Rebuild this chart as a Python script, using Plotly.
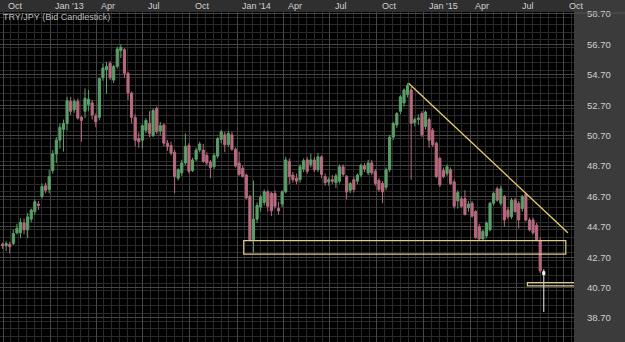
import plotly.graph_objects as go
import pandas as pd

# ---------------- data (weekly TRY/JPY bid candles) ----------------
start_date = "2012-09-30"

opens = [43.55, 43.45, 43.55, 43.60, 44.30, 44.30, 44.95, 44.50, 45.20, 45.70,
         46.20, 46.70, 47.40, 47.15, 48.40, 49.50, 50.40, 51.10, 51.50, 52.95,
         52.40, 52.95, 51.90, 52.30, 52.75, 52.85, 52.00, 51.90, 54.50, 55.05,
         55.45, 54.35, 55.25, 56.30, 56.35, 54.80, 53.50, 51.90, 50.50, 50.40,
         51.05, 51.50, 50.70, 52.50, 51.00, 51.40, 50.20, 50.05, 49.60, 47.90,
         48.25, 48.90, 50.05, 48.40, 49.15, 49.75, 49.75, 49.40, 48.95, 48.65,
         49.35, 50.45, 50.75, 50.10, 50.75, 49.80, 48.90, 48.55, 48.10, 46.70,
         43.85, 45.20, 46.00, 46.30, 47.00, 46.90, 46.90, 45.90, 46.20, 47.00,
         49.00, 48.10, 47.90, 47.80, 48.50, 49.10, 48.80, 49.10, 48.45, 49.30,
         48.00, 47.65, 47.80, 47.60, 47.70, 48.65, 48.00, 47.10, 47.80, 47.70,
         48.10, 48.70, 48.25, 48.90, 48.35, 47.75, 47.55, 47.30, 48.45, 50.60,
         51.40, 52.30, 52.85, 53.40, 53.70, 51.55, 51.75, 52.15, 51.30, 51.75,
         51.05, 50.20, 49.20, 48.40, 48.20, 48.45, 47.65, 46.40, 46.55, 46.55,
         45.95, 46.25, 45.70, 44.70, 43.90, 44.10, 44.50, 46.25, 47.20, 46.25,
         46.70, 45.80, 45.35, 46.45, 46.25, 45.90, 46.80, 45.15, 45.15, 44.80,
         43.80, 41.75]
highs = [43.65, 43.75, 43.70, 44.50, 44.90, 45.25, 45.25, 45.60, 45.90, 46.50,
         46.40, 47.55, 47.60, 48.45, 49.75, 50.60, 51.50, 51.75, 53.25, 53.25,
         53.10, 53.15, 52.00, 53.80, 53.70, 53.05, 52.15, 54.50, 55.45, 55.55,
         55.60, 55.35, 56.55, 56.70, 56.45, 54.90, 53.60, 52.10, 50.90, 51.45,
         51.85, 52.30, 52.50, 52.60, 51.60, 51.50, 50.40, 50.30, 49.75, 48.55,
         49.10, 50.85, 50.20, 49.25, 49.90, 50.30, 50.15, 49.60, 49.10, 49.55,
         50.60, 51.07, 50.95, 51.00, 50.95, 49.90, 49.65, 48.70, 48.20, 46.80,
         47.75, 46.30, 46.80, 47.15, 47.10, 47.00, 47.10, 46.35, 47.10, 49.30,
         49.20, 48.30, 48.20, 48.80, 49.20, 49.30, 49.50, 49.30, 49.55, 49.40,
         48.20, 47.95, 48.10, 48.20, 48.80, 48.80, 48.10, 47.65, 48.00, 48.20,
         48.85, 48.90, 49.10, 49.10, 48.50, 47.90, 47.70, 48.60, 50.75, 51.60,
         52.25, 53.35, 53.80, 54.15, 53.90, 51.90, 52.10, 52.30, 52.35, 51.90,
         51.20, 50.30, 49.30, 48.60, 48.80, 48.60, 47.80, 47.10, 46.70, 47.10,
         46.40, 46.40, 45.80, 44.90, 44.50, 45.05, 46.35, 47.00, 47.35, 47.40,
         46.80, 46.00, 46.60, 46.60, 46.40, 46.80, 46.95, 45.30, 45.30, 44.95,
         44.00, 41.90]
lows = [43.25, 43.10, 42.95, 43.50, 44.20, 43.95, 44.20, 43.95, 45.00, 45.50,
        45.80, 46.55, 46.90, 46.90, 48.20, 48.90, 49.85, 49.65, 51.05, 52.05,
        52.20, 51.75, 50.30, 51.85, 52.30, 51.75, 51.25, 51.70, 54.30, 53.45,
        54.35, 54.15, 55.10, 55.80, 54.50, 53.04, 51.50, 49.98, 49.90, 49.85,
        50.85, 50.60, 50.60, 50.80, 50.70, 49.98, 49.70, 49.40, 46.90, 47.75,
        48.05, 48.75, 48.20, 48.30, 49.00, 49.60, 48.90, 48.75, 47.90, 48.50,
        49.20, 50.20, 49.60, 49.95, 49.70, 48.60, 48.05, 47.95, 46.50, 43.75,
        43.00, 44.95, 45.70, 46.10, 45.70, 45.40, 45.90, 45.50, 46.00, 46.90,
        47.50, 47.60, 47.50, 47.60, 48.30, 48.20, 48.60, 48.30, 48.30, 47.90,
        47.40, 47.40, 47.50, 47.25, 47.55, 48.00, 46.50, 46.90, 46.95, 47.50,
        47.95, 48.30, 48.10, 48.10, 47.40, 47.00, 46.25, 47.10, 48.30, 50.40,
        51.20, 52.10, 52.60, 53.20, 47.80, 51.30, 51.40, 50.60, 51.10, 49.90,
        49.95, 47.90, 47.30, 47.90, 48.05, 47.45, 45.90, 45.90, 45.95, 45.45,
        45.70, 45.30, 43.90, 43.80, 43.75, 43.95, 44.40, 46.10, 46.35, 46.10,
        44.70, 45.20, 45.20, 45.60, 44.60, 45.70, 45.05, 44.40, 44.20, 43.75,
        41.65, 39.10]
closes = [43.45, 43.60, 43.40, 44.25, 44.60, 45.00, 44.50, 45.35, 45.80, 46.35,
          46.10, 47.35, 47.10, 48.00, 49.50, 50.40, 51.25, 51.50, 53.00, 52.30,
          52.95, 51.85, 51.70, 53.15, 53.10, 52.05, 51.60, 54.45, 55.15, 55.25,
          54.50, 55.25, 56.40, 56.50, 54.80, 53.50, 51.90, 50.40, 50.30, 51.35,
          51.70, 50.85, 52.35, 50.95, 51.35, 50.20, 49.98, 49.55, 48.00, 48.45,
          48.90, 50.00, 48.35, 49.10, 49.75, 50.15, 49.00, 48.90, 48.60, 49.40,
          50.50, 50.95, 50.10, 50.85, 49.80, 48.70, 48.15, 48.00, 46.60, 43.85,
          45.20, 46.10, 46.65, 47.00, 46.05, 45.75, 46.05, 45.75, 47.00, 49.10,
          48.00, 47.80, 47.70, 48.65, 49.05, 48.35, 49.10, 48.45, 49.30, 48.15,
          47.60, 47.80, 47.70, 48.05, 48.65, 48.15, 47.00, 47.55, 47.15, 48.10,
          48.75, 48.50, 48.90, 48.25, 47.55, 47.15, 47.00, 48.45, 50.60, 51.50,
          52.15, 53.25, 53.70, 54.00, 51.50, 51.75, 51.85, 50.75, 52.25, 50.40,
          50.10, 48.00, 47.45, 48.00, 48.65, 47.55, 46.05, 46.95, 46.05, 45.50,
          46.20, 45.40, 44.00, 43.90, 44.40, 44.95, 46.25, 46.90, 46.45, 47.20,
          45.15, 45.35, 46.45, 45.70, 45.15, 46.70, 45.15, 44.50, 44.30, 43.85,
          41.80, 41.55]

# drawing tools on the chart (trendline + two support boxes)
trend_dates = ["2014-12-02", "2015-10-09"]
trend_prices = [54.14, 44.31]
support_box_dates = ["2014-01-14", "2015-10-05"]
support_box_prices = [42.90, 43.79]
low_box_dates = ["2015-07-22", "2015-10-25"]
low_box_prices = [40.81, 41.02]

quarter_dates = ["2012-10-01", "2013-01-01", "2013-04-01", "2013-07-01", "2013-10-01",
                 "2014-01-01", "2014-04-01", "2014-07-01", "2014-10-01", "2015-01-01",
                 "2015-04-01", "2015-07-01", "2015-10-01"]
quarter_labels = ["Oct", "Jan '13", "Apr", "Jul", "Oct", "Jan '14", "Apr", "Jul", "Oct",
                  "Jan '15", "Apr", "Jul", "Oct"]
y_tick_vals = [38.70, 40.70, 42.70, 44.70, 46.70, 48.70, 50.70, 52.70, 54.70, 56.70, 58.70]

# ---------------- figure ----------------
dates = pd.date_range(start_date, periods=len(opens), freq="7D")
month_starts = pd.date_range("2012-09-01", "2015-11-01", freq="MS")
minor_grid = sorted(list(month_starts) + [d + pd.Timedelta(days=15) for d in month_starts])

UP = "#5aa068"
DOWN = "#b86a7e"
FONT = "Liberation Sans, Arial, sans-serif"
TXT = "#cfcfcf"

fig = go.Figure()
fig.add_trace(go.Candlestick(
    x=dates[:-1], open=opens[:-1], high=highs[:-1], low=lows[:-1], close=closes[:-1],
    increasing=dict(line=dict(color=UP, width=1), fillcolor=UP),
    decreasing=dict(line=dict(color=DOWN, width=1), fillcolor=DOWN),
    whiskerwidth=0, hoverinfo="skip", showlegend=False,
))
fig.add_trace(go.Candlestick(
    x=dates[-1:], open=opens[-1:], high=highs[-1:], low=lows[-1:], close=closes[-1:],
    increasing=dict(line=dict(color="#f2f2f2", width=1), fillcolor="#f2f2f2"),
    decreasing=dict(line=dict(color="#f2f2f2", width=1), fillcolor="#f2f2f2"),
    whiskerwidth=0, hoverinfo="skip", showlegend=False,
))

PLOT_H = 342 - 12
shapes = [
    # top axis bar
    dict(type="rect", xref="paper", yref="paper", x0=0, x1=1, y0=1, y1=1 + 12 / PLOT_H,
         fillcolor="#2f2f2f", line=dict(width=0), layer="below"),
    dict(type="line", xref="paper", yref="paper", x0=1, x1=1 + 51 / 574, y0=1 - 1 / PLOT_H,
         y1=1 - 1 / PLOT_H, line=dict(color="#555555", width=1)),
    # trendline
    dict(type="line", xref="x", yref="y", x0=trend_dates[0], x1=trend_dates[1],
         y0=trend_prices[0], y1=trend_prices[1], line=dict(color="#e8d06a", width=1.3)),
    # support boxes
    dict(type="rect", xref="x", yref="y", x0=support_box_dates[0], x1=support_box_dates[1],
         y0=support_box_prices[0], y1=support_box_prices[1],
         line=dict(color="#e0c98a", width=1.2), fillcolor="rgba(0,0,0,0)"),
    dict(type="rect", xref="x", yref="y", x0=low_box_dates[0], x1=low_box_dates[1],
         y0=low_box_prices[0], y1=low_box_prices[1],
         line=dict(color="#e0c98a", width=1.2), fillcolor="rgba(0,0,0,0)"),
]

annotations = [
    dict(x=d, xref="x", y=1 + 6 / PLOT_H, yref="paper", text=t, showarrow=False,
         xanchor="left", yanchor="middle", xshift=3,
         font=dict(family=FONT, size=9, color=TXT))
    for d, t in zip(quarter_dates, quarter_labels)
]
annotations.append(dict(x=0, xref="paper", y=1 - 5 / PLOT_H, yref="paper",
                        text="TRY/JPY (Bid Candlestick)", showarrow=False,
                        xanchor="left", yanchor="middle", xshift=1,
                        font=dict(family=FONT, size=9, color="#bdbdbd")))

fig.update_layout(
    width=625, height=342,
    margin=dict(l=0, r=51, t=12, b=0),
    paper_bgcolor="#3b3b3b",
    plot_bgcolor="#000000",
    showlegend=False,
    boxgap=0.15,
    shapes=shapes,
    annotations=annotations,
    xaxis=dict(
        type="date", range=["2012-09-25", "2015-10-21"],
        rangeslider=dict(visible=False),
        showticklabels=False, ticks="",
        tickmode="array", tickvals=quarter_dates,
        showgrid=True, gridcolor="#474747", gridwidth=1,
        minor=dict(tickmode="array", tickvals=minor_grid, showgrid=True,
                   gridcolor="#2a2a2a", gridwidth=1),
        zeroline=False, showline=False, fixedrange=True,
    ),
    yaxis=dict(
        side="right", range=[37.12, 58.83],
        tickmode="array", tickvals=y_tick_vals, tickformat=".2f",
        tickfont=dict(family=FONT, size=9.5, color=TXT),
        ticks="", ticklabelstandoff=12,
        showgrid=True, gridcolor="#454545", gridwidth=1,
        minor=dict(dtick=0.5, showgrid=True, gridcolor="#2a2a2a", gridwidth=1),
        zeroline=False, showline=False, fixedrange=True,
    ),
)

fig.write_html("out.html")
